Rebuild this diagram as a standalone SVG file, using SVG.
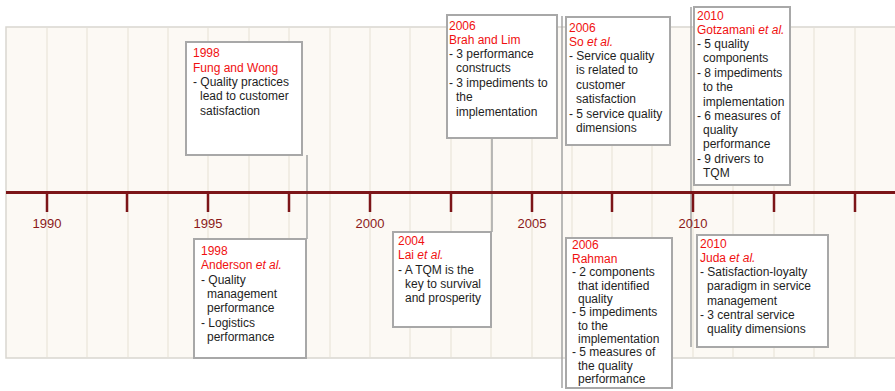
<svg xmlns="http://www.w3.org/2000/svg" width="895" height="391" viewBox="0 0 895 391">
<style>
.bg{fill:#fcf9f4;stroke:#d9d6d0;stroke-width:1.5}
.grid{stroke:#eee8df;stroke-width:1.5}
.axis{stroke:#7c1518;stroke-width:3;fill:none}
.tick{stroke:#7c1518;stroke-width:2.5}
.yr{font-family:"Liberation Sans",Arial,sans-serif;font-size:13px;fill:#8b1a1a;text-anchor:middle}
.conn{stroke:#a3a3a3;stroke-width:1.5;fill:none}
.box{fill:#fff;stroke:#a8a8a8;stroke-width:2}
.t{font-family:"Liberation Sans",Arial,sans-serif;font-size:12px;fill:#1e1e1e}
.r{fill:#f01010}
</style>
<rect class="bg" x="6" y="27" width="895" height="331"/>
<g id="grid">
<line class="grid" x1="47" y1="28" x2="47" y2="357"/>
<line class="grid" x1="87" y1="28" x2="87" y2="357"/>
<line class="grid" x1="128" y1="28" x2="128" y2="357"/>
<line class="grid" x1="168" y1="28" x2="168" y2="357"/>
<line class="grid" x1="208" y1="28" x2="208" y2="357"/>
<line class="grid" x1="249" y1="28" x2="249" y2="357"/>
<line class="grid" x1="289" y1="28" x2="289" y2="357"/>
<line class="grid" x1="330" y1="28" x2="330" y2="357"/>
<line class="grid" x1="370" y1="28" x2="370" y2="357"/>
<line class="grid" x1="410" y1="28" x2="410" y2="357"/>
<line class="grid" x1="451" y1="28" x2="451" y2="357"/>
<line class="grid" x1="491" y1="28" x2="491" y2="357"/>
<line class="grid" x1="532" y1="28" x2="532" y2="357"/>
<line class="grid" x1="572" y1="28" x2="572" y2="357"/>
<line class="grid" x1="612" y1="28" x2="612" y2="357"/>
<line class="grid" x1="652" y1="28" x2="652" y2="357"/>
<line class="grid" x1="693" y1="28" x2="693" y2="357"/>
<line class="grid" x1="733" y1="28" x2="733" y2="357"/>
<line class="grid" x1="774" y1="28" x2="774" y2="357"/>
<line class="grid" x1="814" y1="28" x2="814" y2="357"/>
<line class="grid" x1="855" y1="28" x2="855" y2="357"/>
</g>
<g id="connectors">
<line class="conn" x1="307" y1="155" x2="307" y2="239"/>
<line class="conn" x1="492" y1="138" x2="492" y2="232"/>
<line class="conn" x1="562" y1="16" x2="562" y2="388"/>
<line class="conn" x1="691" y1="7" x2="691" y2="347"/>
</g>
<g id="axis">
<line class="axis" x1="6" y1="192.5" x2="895" y2="192.5"/>
<line class="tick" x1="47" y1="192" x2="47" y2="212"/>
<line class="tick" x1="127" y1="192" x2="127" y2="212"/>
<line class="tick" x1="208" y1="192" x2="208" y2="212"/>
<line class="tick" x1="289" y1="192" x2="289" y2="212"/>
<line class="tick" x1="370" y1="192" x2="370" y2="212"/>
<line class="tick" x1="451" y1="192" x2="451" y2="212"/>
<line class="tick" x1="532" y1="192" x2="532" y2="212"/>
<line class="tick" x1="612" y1="192" x2="612" y2="212"/>
<line class="tick" x1="693" y1="192" x2="693" y2="212"/>
<line class="tick" x1="774" y1="192" x2="774" y2="212"/>
<line class="tick" x1="855" y1="192" x2="855" y2="212"/>
<text class="yr" x="47" y="228">1990</text>
<text class="yr" x="208" y="228">1995</text>
<text class="yr" x="370" y="228">2000</text>
<text class="yr" x="532" y="228">2005</text>
<text class="yr" x="693" y="228">2010</text>
</g>
<g id="fung">
<rect class="box" x="186" y="42" width="116" height="113"/>
<text class="t r" x="193" y="57">1998</text>
<text class="t r" x="193" y="72">Fung and Wong</text>
<text class="t" x="193" y="86">- Quality practices</text>
<text class="t" x="200" y="100">lead to customer</text>
<text class="t" x="200" y="115">satisfaction</text>
</g>
<g id="brah">
<rect class="box" x="447" y="15" width="110" height="123"/>
<text class="t r" x="449" y="30">2006</text>
<text class="t r" x="449" y="44">Brah and Lim</text>
<text class="t" x="449" y="58">- 3 performance</text>
<text class="t" x="456" y="72">constructs</text>
<text class="t" x="449" y="87">- 3 impediments to</text>
<text class="t" x="456" y="101">the</text>
<text class="t" x="456" y="116">implementation</text>
</g>
<g id="so">
<rect class="box" x="566" y="17" width="104" height="128"/>
<text class="t r" x="569" y="32">2006</text>
<text class="t r" x="569" y="46">So <tspan font-style="italic">et al.</tspan></text>
<text class="t" x="569" y="60">- Service quality</text>
<text class="t" x="576" y="74">is related to</text>
<text class="t" x="576" y="89">customer</text>
<text class="t" x="576" y="103">satisfaction</text>
<text class="t" x="569" y="118">- 5 service quality</text>
<text class="t" x="576" y="132">dimensions</text>
</g>
<g id="gotzamani">
<rect class="box" x="694" y="7" width="96" height="178"/>
<text class="t r" x="697" y="20">2010</text>
<text class="t r" x="697" y="34">Gotzamani <tspan font-style="italic">et al.</tspan></text>
<text class="t" x="697" y="48">- 5 quality</text>
<text class="t" x="703" y="62">components</text>
<text class="t" x="697" y="77">- 8 impediments</text>
<text class="t" x="703" y="91">to the</text>
<text class="t" x="703" y="106">implementation</text>
<text class="t" x="697" y="120">- 6 measures of</text>
<text class="t" x="703" y="134">quality</text>
<text class="t" x="703" y="148">performance</text>
<text class="t" x="697" y="163">- 9 drivers to</text>
<text class="t" x="703" y="177">TQM</text>
</g>
<g id="anderson">
<rect class="box" x="194" y="239" width="112" height="119"/>
<text class="t r" x="201" y="255">1998</text>
<text class="t r" x="201" y="269">Anderson <tspan font-style="italic">et al.</tspan></text>
<text class="t" x="201" y="284">- Quality</text>
<text class="t" x="207" y="298">management</text>
<text class="t" x="207" y="312">performance</text>
<text class="t" x="201" y="327">- Logistics</text>
<text class="t" x="207" y="341">performance</text>
</g>
<g id="lai">
<rect class="box" x="393" y="232" width="98" height="95"/>
<text class="t r" x="398" y="245">2004</text>
<text class="t r" x="398" y="259">Lai <tspan font-style="italic">et al.</tspan></text>
<text class="t" x="398" y="274">- A TQM is the</text>
<text class="t" x="405" y="288">key to survival</text>
<text class="t" x="405" y="302">and prosperity</text>
</g>
<g id="rahman">
<rect class="box" x="566" y="238" width="106" height="150"/>
<text class="t r" x="572" y="249">2006</text>
<text class="t r" x="572" y="262.5">Rahman</text>
<text class="t" x="572" y="276">- 2 components</text>
<text class="t" x="578" y="289.5">that identified</text>
<text class="t" x="578" y="303">quality</text>
<text class="t" x="572" y="316">- 5 impediments</text>
<text class="t" x="578" y="329.5">to the</text>
<text class="t" x="578" y="343">implementation</text>
<text class="t" x="572" y="356">- 5 measures of</text>
<text class="t" x="578" y="369.5">the quality</text>
<text class="t" x="578" y="382.5">performance</text>
</g>
<g id="juda">
<rect class="box" x="697" y="235" width="131" height="112"/>
<text class="t r" x="700" y="248">2010</text>
<text class="t r" x="700" y="262">Juda <tspan font-style="italic">et al.</tspan></text>
<text class="t" x="700" y="276">- Satisfaction-loyalty</text>
<text class="t" x="707" y="290">paradigm in service</text>
<text class="t" x="707" y="305">management</text>
<text class="t" x="700" y="319">- 3 central service</text>
<text class="t" x="707" y="333">quality dimensions</text>
</g>
</svg>
